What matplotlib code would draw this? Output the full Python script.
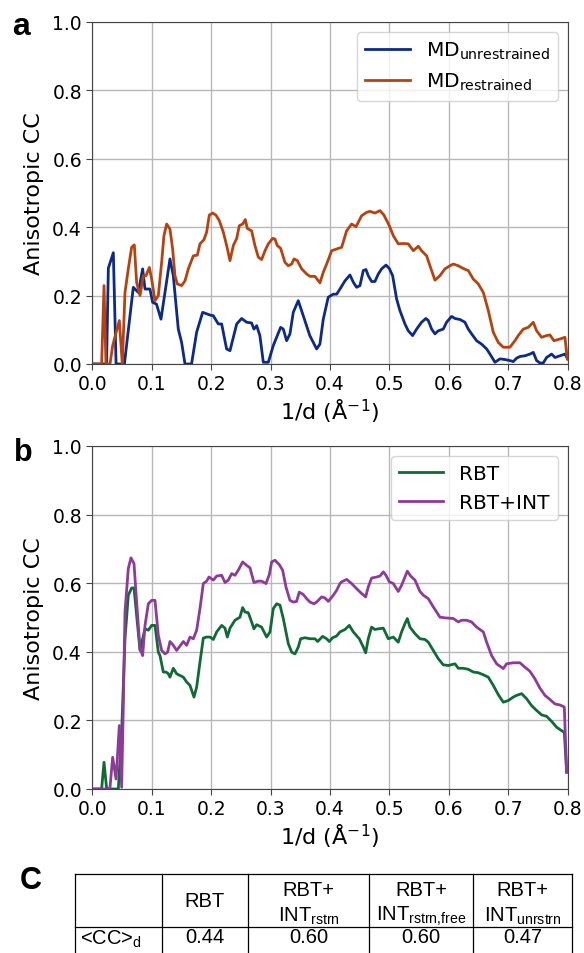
import numpy as np
import matplotlib
matplotlib.use('Agg')
import matplotlib.pyplot as plt
from matplotlib.lines import Line2D

plt.rcParams['font.family'] = 'DejaVu Sans'
plt.rcParams['mathtext.fontset'] = 'dejavusans'

# ---- panel a: MD runs ----
x_unres = [0.0, 0.024, 0.027, 0.0354, 0.040, 0.054, 0.069, 0.0775, 0.0847, 0.0887,
           0.097, 0.1016, 0.108, 0.1156, 0.1223, 0.1307, 0.1363, 0.1447, 0.1503, 0.156,
           0.167, 0.1756, 0.1857, 0.198, 0.2036, 0.212, 0.2177, 0.226, 0.2317, 0.243,
           0.2513, 0.2597, 0.268, 0.272, 0.2766, 0.282, 0.2878, 0.2962, 0.3046, 0.3169,
           0.3214, 0.327, 0.3326, 0.3382, 0.3466, 0.355, 0.366, 0.3775, 0.383, 0.3887,
           0.397, 0.4055, 0.4112, 0.4168, 0.4252, 0.4336, 0.4392, 0.4448, 0.4504, 0.456,
           0.4605, 0.4644, 0.47, 0.4756, 0.4813, 0.4869, 0.4942, 0.4998, 0.5054, 0.5121,
           0.5177, 0.5261, 0.5317, 0.539, 0.5458, 0.5541, 0.5614, 0.5654, 0.571, 0.5766,
           0.5822, 0.5906, 0.5962, 0.6046, 0.6103, 0.6187, 0.6271, 0.6327, 0.6383, 0.6467,
           0.6551, 0.6636, 0.6692, 0.6776, 0.686, 0.6944, 0.7028, 0.7084, 0.714, 0.7197,
           0.7281, 0.7365, 0.7421, 0.7477, 0.7533, 0.7589, 0.7645, 0.773, 0.7786, 0.787,
           0.7954, 0.80]
y_unres = [0, 0, 0.28, 0.325, 0, 0, 0.224, 0.209, 0.278, 0.219,
           0.219, 0.180, 0.175, 0.131, 0.209, 0.307, 0.258, 0.102, 0.063, 0,
           0, 0.093, 0.151, 0.143, 0.141, 0.117, 0.117, 0.044, 0.039, 0.117,
           0.133, 0.122, 0.120, 0.102, 0.112, 0.083, 0.005, 0.005, 0.054, 0.107,
           0.102, 0.068, 0.088, 0.151, 0.185, 0.141, 0.083, 0.044, 0.058, 0.131,
           0.195, 0.204, 0.204, 0.219, 0.243, 0.260, 0.239, 0.224, 0.229, 0.273,
           0.276, 0.258, 0.241, 0.241, 0.263, 0.278, 0.289, 0.279, 0.258, 0.190,
           0.156, 0.117, 0.097, 0.083, 0.102, 0.122, 0.133, 0.127, 0.102, 0.088,
           0.097, 0.102, 0.122, 0.139, 0.133, 0.130, 0.122, 0.102, 0.088, 0.068,
           0.058, 0.044, 0.029, 0.005, 0.015, 0.013, 0.010, 0.007, 0.017, 0.022,
           0.024, 0.029, 0.034, 0.010, 0.003, 0.003, 0.019, 0.029, 0.019, 0.024,
           0.029, 0.015]

x_res = [0.0, 0.0157, 0.0197, 0.023, 0.0298, 0.0343, 0.0455, 0.0505, 0.055, 0.0606,
         0.0662, 0.0707, 0.0746, 0.0803, 0.0859, 0.0903, 0.096, 0.0999, 0.1055, 0.1111,
         0.1167, 0.1206, 0.1251, 0.1307, 0.1352, 0.1391, 0.1431, 0.1503, 0.156, 0.1616,
         0.170, 0.1767, 0.1812, 0.1879, 0.1924, 0.1969, 0.2025, 0.2081, 0.2137, 0.2205,
         0.2261, 0.2317, 0.2373, 0.243, 0.2474, 0.253, 0.2575, 0.2609, 0.2681, 0.2737,
         0.2794, 0.285, 0.2906, 0.2962, 0.3035, 0.3074, 0.3113, 0.3169, 0.3242, 0.3298,
         0.3355, 0.3394, 0.345, 0.3523, 0.3607, 0.3663, 0.3747, 0.3831, 0.3887, 0.3955,
         0.4028, 0.4112, 0.4196, 0.428, 0.4364, 0.4437, 0.4532, 0.4616, 0.4673, 0.4757,
         0.4841, 0.4908, 0.4998, 0.5065, 0.5149, 0.5233, 0.5317, 0.5402, 0.5486, 0.5541,
         0.5626, 0.5682, 0.5766, 0.585, 0.5934, 0.6019, 0.6075, 0.6159, 0.6243, 0.6327,
         0.6411, 0.6495, 0.658, 0.6664, 0.6748, 0.6832, 0.6916, 0.7028, 0.7112, 0.7168,
         0.7253, 0.7337, 0.7421, 0.7477, 0.7561, 0.7645, 0.7701, 0.7768, 0.787, 0.7954,
         0.7993]
y_res = [0, 0, 0.229, 0, 0, 0.054, 0.127, 0, 0.209, 0.278,
         0.341, 0.348, 0.238, 0.200, 0.258, 0.258, 0.282, 0.248, 0.185, 0.200,
         0.297, 0.375, 0.409, 0.394, 0.336, 0.258, 0.234, 0.229, 0.243, 0.278,
         0.316, 0.318, 0.351, 0.363, 0.385, 0.435, 0.441, 0.435, 0.419, 0.385,
         0.346, 0.302, 0.346, 0.367, 0.404, 0.409, 0.422, 0.396, 0.389, 0.346,
         0.312, 0.305, 0.331, 0.351, 0.367, 0.365, 0.346, 0.338, 0.297, 0.287,
         0.292, 0.307, 0.302, 0.278, 0.263, 0.256, 0.256, 0.237, 0.268, 0.297,
         0.331, 0.336, 0.341, 0.389, 0.409, 0.401, 0.433, 0.443, 0.446, 0.441,
         0.448, 0.435, 0.404, 0.375, 0.351, 0.352, 0.351, 0.331, 0.344, 0.331,
         0.316, 0.287, 0.245, 0.258, 0.278, 0.287, 0.292, 0.287, 0.279, 0.273,
         0.248, 0.234, 0.209, 0.156, 0.0925, 0.063, 0.049, 0.049, 0.068, 0.083,
         0.102, 0.107, 0.122, 0.097, 0.078, 0.083, 0.085, 0.068, 0.073, 0.078,
         0.015]

# ---- panel b: refinements ----
x_rbt = [0.0, 0.0157, 0.0197, 0.0242, 0.0438, 0.0494, 0.055, 0.0606, 0.0662, 0.0702,
         0.0746, 0.0803, 0.0847, 0.0887, 0.0943, 0.0999, 0.1055, 0.1111, 0.1139, 0.1195,
         0.124, 0.128, 0.1307, 0.1363, 0.1419, 0.1476, 0.1532, 0.1588, 0.1644, 0.1711,
         0.1756, 0.1812, 0.1868, 0.1924, 0.1981, 0.2037, 0.2093, 0.2177, 0.2233, 0.2272,
         0.2317, 0.2401, 0.2485, 0.253, 0.2569, 0.2625, 0.2681, 0.272, 0.2765, 0.2849,
         0.2934, 0.299, 0.3046, 0.3102, 0.3158, 0.3214, 0.3298, 0.3355, 0.3411, 0.3467,
         0.3506, 0.3579, 0.3663, 0.3747, 0.3792, 0.3876, 0.3943, 0.3988, 0.4044, 0.4111,
         0.4168, 0.4252, 0.4325, 0.4392, 0.4493, 0.456, 0.460, 0.4644, 0.470, 0.4756,
         0.4813, 0.4897, 0.4981, 0.5065, 0.5149, 0.5205, 0.5261, 0.5301, 0.5345, 0.543,
         0.5514, 0.5598, 0.5654, 0.5738, 0.5822, 0.5906, 0.5991, 0.6103, 0.6159, 0.6243,
         0.6327, 0.6411, 0.6495, 0.658, 0.6664, 0.6748, 0.6832, 0.6916, 0.7001, 0.7085,
         0.7141, 0.7225, 0.7309, 0.7393, 0.7477, 0.7561, 0.7645, 0.773, 0.7814, 0.7915,
         0.7943, 0.7982]
y_rbt = [0, 0, 0.078, 0, 0, 0.166, 0.438, 0.565, 0.586, 0.586,
         0.506, 0.404, 0.438, 0.467, 0.463, 0.477, 0.477, 0.399, 0.389, 0.341,
         0.341, 0.336, 0.326, 0.352, 0.336, 0.331, 0.326, 0.312, 0.302, 0.268,
         0.297, 0.370, 0.440, 0.443, 0.443, 0.436, 0.458, 0.477, 0.469, 0.443,
         0.469, 0.492, 0.501, 0.529, 0.516, 0.514, 0.487, 0.467, 0.479, 0.472,
         0.443, 0.458, 0.526, 0.540, 0.536, 0.497, 0.424, 0.399, 0.394, 0.414,
         0.438, 0.441, 0.438, 0.438, 0.430, 0.445, 0.438, 0.430, 0.441, 0.446,
         0.458, 0.465, 0.477, 0.458, 0.438, 0.414, 0.397, 0.438, 0.472, 0.465,
         0.467, 0.469, 0.438, 0.443, 0.428, 0.458, 0.482, 0.497, 0.472, 0.453,
         0.438, 0.436, 0.428, 0.404, 0.380, 0.362, 0.360, 0.365, 0.352, 0.352,
         0.349, 0.341, 0.339, 0.333, 0.326, 0.302, 0.275, 0.253, 0.258, 0.268,
         0.273, 0.278, 0.263, 0.243, 0.229, 0.216, 0.212, 0.197, 0.180, 0.168,
         0.166, 0.049]

x_int = [0.0, 0.027, 0.0298, 0.0343, 0.0399, 0.0455, 0.0494, 0.0522, 0.055, 0.0606,
         0.0651, 0.0702, 0.0746, 0.0803, 0.0847, 0.0887, 0.0943, 0.0999, 0.1055, 0.1111,
         0.1167, 0.1223, 0.1268, 0.1307, 0.1363, 0.1419, 0.1476, 0.1532, 0.1588, 0.1644,
         0.170, 0.1756, 0.1812, 0.1868, 0.1924, 0.1963, 0.2037, 0.2093, 0.2177, 0.2233,
         0.2289, 0.2345, 0.2401, 0.2457, 0.253, 0.2597, 0.2653, 0.272, 0.2793, 0.2849,
         0.2923, 0.2979, 0.3018, 0.3074, 0.3147, 0.3203, 0.3259, 0.3326, 0.3382, 0.3438,
         0.3483, 0.355, 0.3607, 0.3663, 0.373, 0.3775, 0.3859, 0.3915, 0.3971, 0.4056,
         0.4111, 0.4168, 0.4196, 0.428, 0.4364, 0.4448, 0.4532, 0.460, 0.4644, 0.470,
         0.4784, 0.4841, 0.4897, 0.4942, 0.4998, 0.5065, 0.5149, 0.5205, 0.5261, 0.5301,
         0.5357, 0.543, 0.5514, 0.557, 0.5654, 0.5738, 0.585, 0.5934, 0.6075, 0.6159,
         0.6215, 0.6299, 0.6383, 0.6467, 0.658, 0.6636, 0.672, 0.6804, 0.6916, 0.6972,
         0.7084, 0.7196, 0.7281, 0.7365, 0.7449, 0.7533, 0.7617, 0.7701, 0.7786, 0.787,
         0.7943, 0.7982]
y_int = [0, 0, 0.005, 0.0925, 0.029, 0.185, 0.005, 0.243, 0.516, 0.643,
         0.674, 0.657, 0.545, 0.409, 0.389, 0.477, 0.540, 0.550, 0.550, 0.448,
         0.404, 0.394, 0.399, 0.430, 0.419, 0.404, 0.417, 0.430, 0.419, 0.443,
         0.438, 0.463, 0.526, 0.599, 0.606, 0.618, 0.609, 0.621, 0.623, 0.602,
         0.609, 0.628, 0.623, 0.638, 0.662, 0.652, 0.645, 0.602, 0.606, 0.606,
         0.599, 0.625, 0.662, 0.667, 0.654, 0.638, 0.589, 0.550, 0.545, 0.547,
         0.574, 0.567, 0.555, 0.545, 0.540, 0.545, 0.560, 0.557, 0.547, 0.565,
         0.579, 0.599, 0.604, 0.611, 0.599, 0.584, 0.570, 0.560, 0.589, 0.615,
         0.618, 0.621, 0.633, 0.623, 0.604, 0.599, 0.576, 0.594, 0.618, 0.635,
         0.621, 0.609, 0.576, 0.565, 0.555, 0.531, 0.501, 0.499, 0.497, 0.487,
         0.492, 0.492, 0.487, 0.472, 0.458, 0.428, 0.389, 0.365, 0.351, 0.365,
         0.368, 0.368, 0.355, 0.343, 0.321, 0.294, 0.273, 0.261, 0.248, 0.245,
         0.239, 0.049]

# ---- table c ----
col_heads = ['', 'RBT', 'RBT+\nINT$_{\\mathregular{rstrn}}$',
             'RBT+\nINT$_{\\mathregular{rstrn{,}free}}$', 'RBT+\nINT$_{\\mathregular{unrstrn}}$']
row_label = '<CC>$_{\\mathregular{d}}$'
cc_values = ['0.44', '0.60', '0.60', '0.47']

W, H = 584, 954
fig = plt.figure(figsize=(W / 100, H / 100), dpi=100)


def fx(px):
    return px / W


def fy(py):
    return 1 - py / H


def style_axes(ax):
    ax.set_xlim(0, 0.8)
    ax.set_ylim(0, 1.0)
    ax.set_xticks(np.arange(0, 0.81, 0.1))
    ax.set_yticks(np.arange(0, 1.01, 0.2))
    ax.grid(True, color='#b8b8b8', linewidth=1.0)
    ax.set_axisbelow(True)
    ax.tick_params(labelsize=13.5, length=4, color='#444444')
    for s in ax.spines.values():
        s.set_color('#444444')
    ax.set_xlabel('1/d (Å$^{-1}$)', fontsize=16, labelpad=2)
    ax.set_ylabel('Anisotropic CC', fontsize=16, labelpad=6)


ax_a = fig.add_axes([fx(92.3), fy(365), fx(567.7) - fx(92.3), fy(22.7) - fy(365)])
ax_a.plot(x_unres, y_unres, color='#0b2a8c', lw=2, label='MD$_{\\mathregular{unrestrained}}$')
ax_a.plot(x_res, y_res, color='#b8420f', lw=2, label='MD$_{\\mathregular{restrained}}$')
style_axes(ax_a)
ax_a.legend(loc='upper right', fontsize=14.5, handlelength=2.2)

ax_b = fig.add_axes([fx(92.3), fy(790), fx(567.7) - fx(92.3), fy(447) - fy(790)])
ax_b.plot(x_rbt, y_rbt, color='#0e6b35', lw=2, label='RBT')
ax_b.plot(x_int, y_int, color='#8e3a9b', lw=2, label='RBT+INT')
style_axes(ax_b)
ax_b.legend(loc='upper right', fontsize=14.5, handlelength=2.2)

# panel letters
for letter, px, py, fs in [('a', 12, 35, 23), ('b', 14, 461, 22), ('C', 20, 889, 22)]:
    fig.text(fx(px), fy(py), letter, fontsize=fs, fontweight='bold',
             family='Liberation Sans', va='baseline', ha='left')

# table drawn with figure lines
col_edges = [75, 162, 248, 369, 473, 572]
row_edges = [875, 928]
for ry in row_edges:
    fig.add_artist(Line2D([fx(col_edges[0]), fx(col_edges[-1])], [fy(ry), fy(ry)],
                          color='black', lw=0.9))
for cx in col_edges:
    fig.add_artist(Line2D([fx(cx), fx(cx)], [fy(875), fy(960)], color='black', lw=0.9))

tkw = dict(family='Liberation Sans', fontsize=14.5, ha='center', va='center')
for i, head in enumerate(col_heads):
    if not head:
        continue
    cx = (col_edges[i] + col_edges[i + 1]) / 2
    if '\n' in head:
        top, bot = head.split('\n')
        fig.text(fx(cx), fy(891), top, **tkw)
        fig.text(fx(cx), fy(916), bot, **tkw)
    else:
        fig.text(fx(cx), fy(902), head, **tkw)

fig.text(fx(80), fy(939), row_label, family='Liberation Sans', fontsize=14.5,
         ha='left', va='center')
for i, v in enumerate(cc_values):
    cx = (col_edges[i + 1] + col_edges[i + 2]) / 2
    fig.text(fx(cx), fy(938), v, **tkw)

fig.savefig('out.png', dpi=100)
